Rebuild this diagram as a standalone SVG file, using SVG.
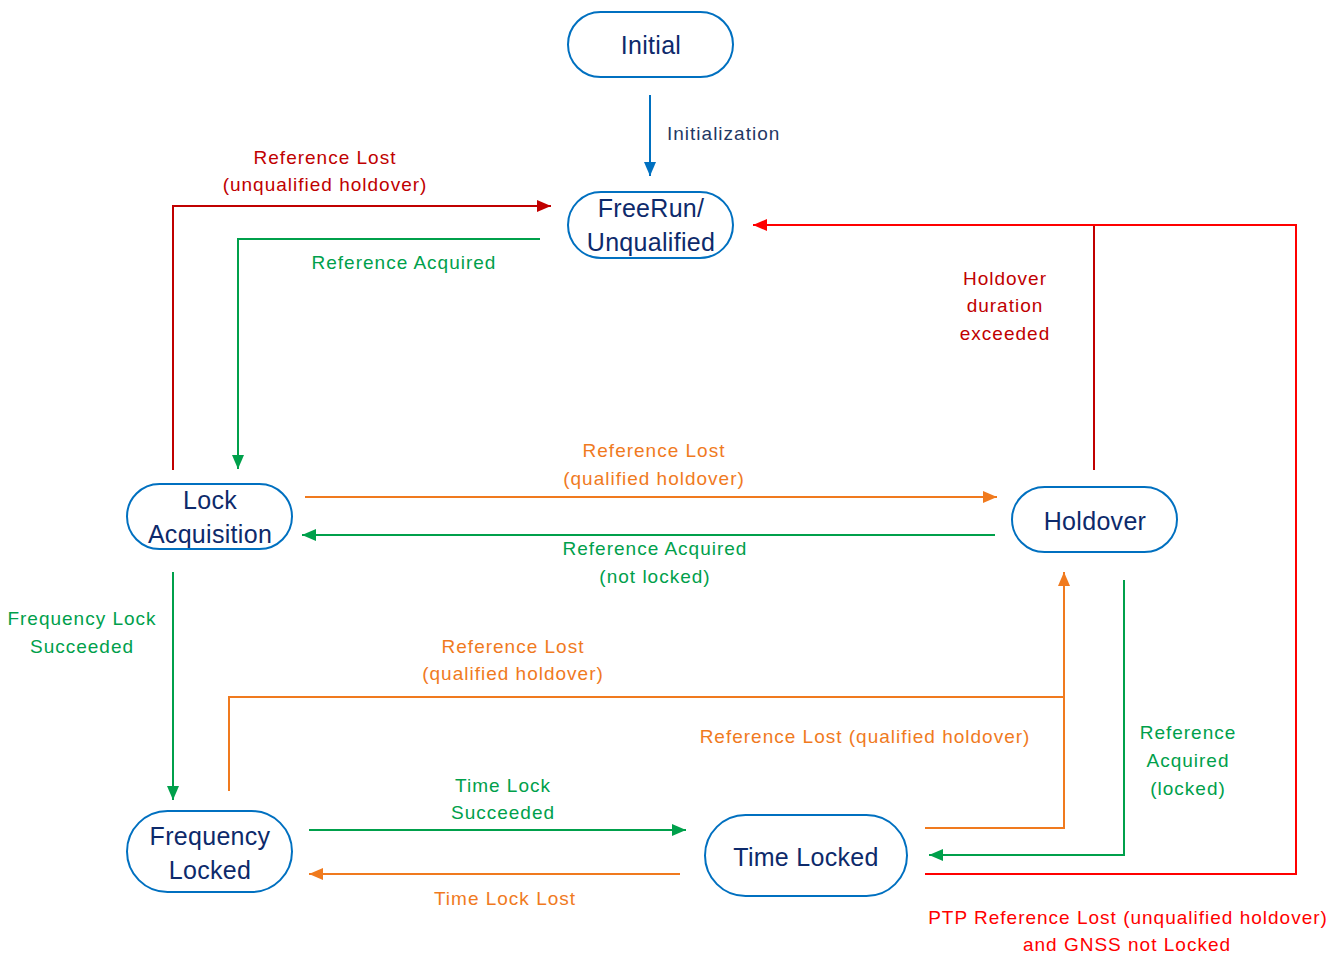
<svg xmlns="http://www.w3.org/2000/svg" width="1341" height="953" viewBox="0 0 1341 953">
<style>
.node{fill:#fff;stroke:#0070C0;stroke-width:2}
.nt{font-family:"Liberation Sans",Arial,sans-serif;font-size:25px;fill:#0D2A6B;text-anchor:middle;letter-spacing:0.3px}
.lb{font-family:"Liberation Sans",Arial,sans-serif;font-size:19px;text-anchor:middle;letter-spacing:1px}
.c{fill:none;stroke-width:2}
.blue{stroke:#0070C0}.dred{stroke:#C00000}.red{stroke:#FF0000}.grn{stroke:#00A04B}.org{stroke:#F07A1E}
.tb{fill:#1F3864}.tdr{fill:#C00000}.tr{fill:#FF0000}.tg{fill:#00A04B}.to{fill:#F07A1E}
</style>
<defs>
<marker id="aBlue" viewBox="0 0 14 12" refX="14" refY="6" markerWidth="14" markerHeight="12" markerUnits="userSpaceOnUse" orient="auto"><path d="M0,0L14,6L0,12z" fill="#0070C0"/></marker>
<marker id="aDred" viewBox="0 0 14 12" refX="14" refY="6" markerWidth="14" markerHeight="12" markerUnits="userSpaceOnUse" orient="auto"><path d="M0,0L14,6L0,12z" fill="#C00000"/></marker>
<marker id="aRed" viewBox="0 0 14 12" refX="14" refY="6" markerWidth="14" markerHeight="12" markerUnits="userSpaceOnUse" orient="auto"><path d="M0,0L14,6L0,12z" fill="#FF0000"/></marker>
<marker id="aGrn" viewBox="0 0 14 12" refX="14" refY="6" markerWidth="14" markerHeight="12" markerUnits="userSpaceOnUse" orient="auto"><path d="M0,0L14,6L0,12z" fill="#00A04B"/></marker>
<marker id="aOrg" viewBox="0 0 14 12" refX="14" refY="6" markerWidth="14" markerHeight="12" markerUnits="userSpaceOnUse" orient="auto"><path d="M0,0L14,6L0,12z" fill="#F07A1E"/></marker>
</defs>
<rect width="1341" height="953" fill="#fff"/>
<g id="connectors">
<path class="c blue" d="M650,95V176" marker-end="url(#aBlue)"/>
<path class="c dred" d="M173,470V206H551" marker-end="url(#aDred)"/>
<path class="c grn" d="M540,239H238V469" marker-end="url(#aGrn)"/>
<path class="c org" d="M305,497H997" marker-end="url(#aOrg)"/>
<path class="c grn" d="M995,535H302" marker-end="url(#aGrn)"/>
<path class="c grn" d="M173,572V800" marker-end="url(#aGrn)"/>
<path class="c org" d="M229,791V697H1064"/>
<path class="c org" d="M925,828H1064V572" marker-end="url(#aOrg)"/>
<path class="c grn" d="M309,830H686" marker-end="url(#aGrn)"/>
<path class="c org" d="M680,874H309" marker-end="url(#aOrg)"/>
<path class="c grn" d="M1124,580V855H929" marker-end="url(#aGrn)"/>
<path class="c red" d="M925,874H1296V225H753" marker-end="url(#aRed)"/>
<path class="c dred" d="M1094,470V226"/>
</g>
<g id="labels">
<text class="lb tb" x="667" y="140" text-anchor="start" style="text-anchor:start">Initialization</text>
<text class="lb tdr" x="325" y="164">Reference Lost</text>
<text class="lb tdr" x="325" y="191">(unqualified holdover)</text>
<text class="lb tg" x="404" y="269">Reference Acquired</text>
<text class="lb to" x="654" y="457">Reference Lost</text>
<text class="lb to" x="654" y="485">(qualified holdover)</text>
<text class="lb tg" x="655" y="555">Reference Acquired</text>
<text class="lb tg" x="655" y="583">(not locked)</text>
<text class="lb tg" x="82" y="625">Frequency Lock</text>
<text class="lb tg" x="82" y="653">Succeeded</text>
<text class="lb to" x="513" y="653">Reference Lost</text>
<text class="lb to" x="513" y="680">(qualified holdover)</text>
<text class="lb to" x="865" y="743">Reference Lost (qualified holdover)</text>
<text class="lb tg" x="503" y="792">Time Lock</text>
<text class="lb tg" x="503" y="819">Succeeded</text>
<text class="lb to" x="505" y="905">Time Lock Lost</text>
<text class="lb tg" x="1188" y="739">Reference</text>
<text class="lb tg" x="1188" y="767">Acquired</text>
<text class="lb tg" x="1188" y="795">(locked)</text>
<text class="lb tdr" x="1005" y="285">Holdover</text>
<text class="lb tdr" x="1005" y="312">duration</text>
<text class="lb tdr" x="1005" y="340">exceeded</text>
<text class="lb tr" x="1128" y="924">PTP Reference Lost (unqualified holdover)</text>
<text class="lb tr" x="1127" y="951">and GNSS not Locked</text>
</g>
<g id="n-initial"><rect class="node" x="568" y="12" width="165" height="65" rx="32.5"/><text class="nt" x="651" y="54">Initial</text></g>
<g id="n-freerun"><rect class="node" x="568" y="192" width="165" height="66" rx="33"/><text class="nt" x="651" y="217">FreeRun/</text><text class="nt" x="651" y="251">Unqualified</text></g>
<g id="n-lockacq"><rect class="node" x="127" y="484" width="165" height="65" rx="32.5"/><text class="nt" x="210" y="509">Lock</text><text class="nt" x="210" y="543">Acquisition</text></g>
<g id="n-holdover"><rect class="node" x="1012" y="487" width="165" height="65" rx="32.5"/><text class="nt" x="1095" y="530">Holdover</text></g>
<g id="n-freqlocked"><rect class="node" x="127" y="811" width="165" height="81" rx="40.5"/><text class="nt" x="210" y="845">Frequency</text><text class="nt" x="210" y="879">Locked</text></g>
<g id="n-timelocked"><rect class="node" x="705" y="815" width="202" height="81" rx="40.5"/><text class="nt" x="806" y="866">Time Locked</text></g>
</svg>
